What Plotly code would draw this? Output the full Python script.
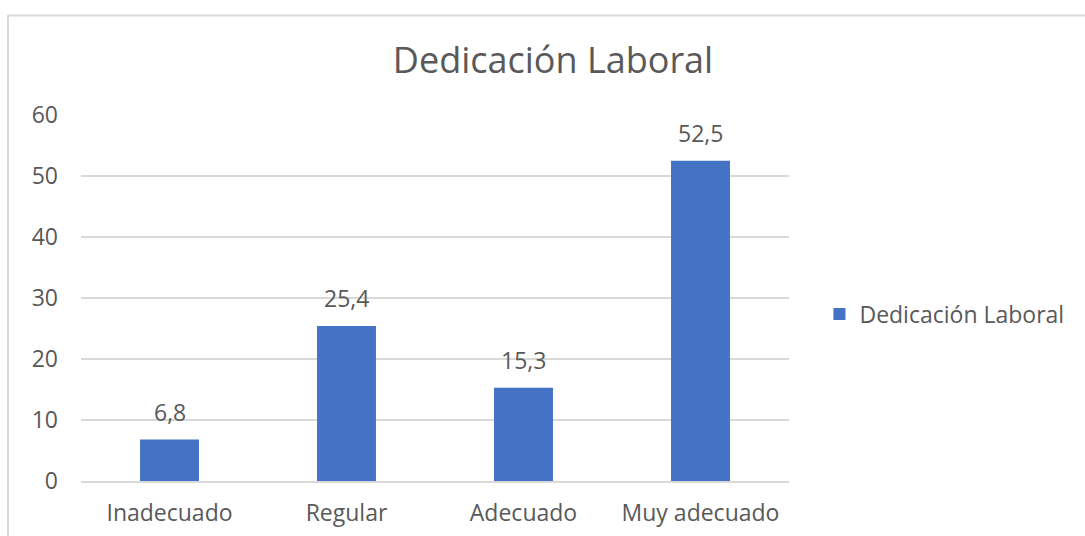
import plotly.graph_objects as go

categories = ["Inadecuado", "Regular", "Adecuado", "Muy adecuado"]
values = [6.8, 25.4, 15.3, 52.5]
series_name = "Dedicación Laboral"
title_text = "Dedicación Laboral"
y_ticks = [0, 10, 20, 30, 40, 50, 60]

font_family = "Open Sans"
gray = "#595959"
grid = "#d9d9d9"
blue = "#4472c4"

fig = go.Figure()
fig.add_trace(go.Bar(
    x=categories, y=values, name=series_name,
    marker=dict(color=blue, line=dict(width=0)),
))

for c, v in zip(categories, values):
    fig.add_annotation(x=c, y=v, text=f"{v:.1f}".replace(".", ","), showarrow=False,
                       yanchor="bottom", yshift=10,
                       font=dict(size=23, color=gray, family=font_family))

fig.update_layout(
    width=1085, height=536,
    margin=dict(l=81, r=296, t=115, b=55),
    paper_bgcolor="white", plot_bgcolor="white",
    separators=",.",
    bargap=0.667,
    showlegend=True,
    title=dict(text=title_text, x=553/1085, xanchor="center", xref="container",
               y=1-60/536, yanchor="middle", yref="container",
               font=dict(size=36, color=gray, family=font_family)),
    legend=dict(x=1.043, xanchor="left", y=0.456, yanchor="middle",
                font=dict(size=23, color=gray, family=font_family),
                itemwidth=30, bgcolor="rgba(0,0,0,0)"),
    font=dict(family=font_family, color=gray),
)
fig.update_xaxes(showgrid=False, showline=True, linecolor=grid, linewidth=1.5,
                 ticks="", tickfont=dict(size=23, color=gray, family=font_family),
                 ticklabelstandoff=11, automargin=False)
fig.update_yaxes(range=[0, 60], tickvals=y_ticks, showgrid=True, gridcolor=grid, gridwidth=1.5,
                 zeroline=False, showline=False, ticks="",
                 tickfont=dict(size=23, color=gray, family=font_family),
                 ticklabelstandoff=22, automargin=False)

fig.add_shape(type="rect", xref="paper", yref="paper",
              x0=(8-81)/708, x1=(1095-81)/708, y0=(481-560)/366, y1=(481-15.5)/366,
              line=dict(color=grid, width=2), fillcolor="rgba(0,0,0,0)", layer="below")

fig.write_html("out.html", config={"displayModeBar": False},
               post_script="document.body.style.margin='0';")
